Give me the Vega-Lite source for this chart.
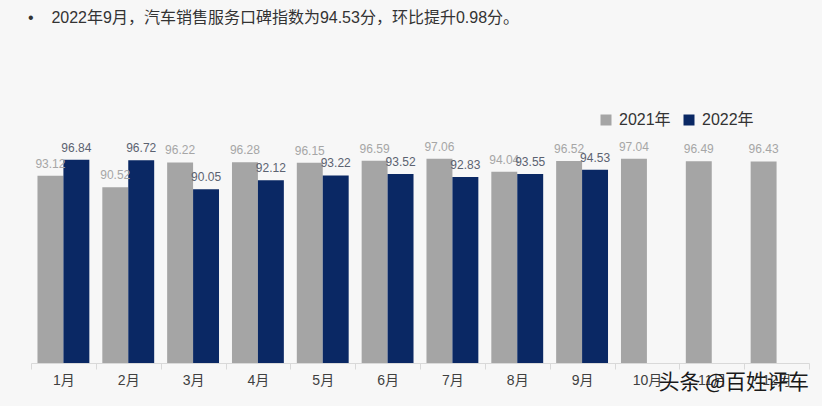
{
  "$schema": "https://vega.github.io/schema/vega-lite/v6.json",
  "width": 778,
  "height": 217,
  "autosize": {"type": "none"},
  "padding": {"left": 31, "top": 146, "right": 13, "bottom": 43},
  "background": "#f7f7f7",
  "config": {"view": {"stroke": null}, "font": "Liberation Sans, Noto Sans CJK SC, sans-serif"},
  "title": {
    "text": "•\u00a0\u00a0\u00a0 2022年9月，汽车销售服务口碑指数为94.53分，环比提升0.98分。",
    "anchor": "start",
    "frame": "group",
    "orient": "top",
    "offset": 86,
    "dx": -3,
    "fontSize": 16,
    "fontWeight": "normal",
    "color": "#333333",
    "font": "Liberation Sans, Noto Sans CJK SC, sans-serif"
  },
  "datasets": {
    "bars": [
      {"month": "1月", "year": "2021年", "value": 93.12},
      {"month": "2月", "year": "2021年", "value": 90.52},
      {"month": "3月", "year": "2021年", "value": 96.22},
      {"month": "4月", "year": "2021年", "value": 96.28},
      {"month": "5月", "year": "2021年", "value": 96.15},
      {"month": "6月", "year": "2021年", "value": 96.59},
      {"month": "7月", "year": "2021年", "value": 97.06},
      {"month": "8月", "year": "2021年", "value": 94.04},
      {"month": "9月", "year": "2021年", "value": 96.52},
      {"month": "10月", "year": "2021年", "value": 97.04},
      {"month": "11月", "year": "2021年", "value": 96.49},
      {"month": "12月", "year": "2021年", "value": 96.43},
      {"month": "1月", "year": "2022年", "value": 96.84},
      {"month": "2月", "year": "2022年", "value": 96.72},
      {"month": "3月", "year": "2022年", "value": 90.05},
      {"month": "4月", "year": "2022年", "value": 92.12},
      {"month": "5月", "year": "2022年", "value": 93.22},
      {"month": "6月", "year": "2022年", "value": 93.52},
      {"month": "7月", "year": "2022年", "value": 92.83},
      {"month": "8月", "year": "2022年", "value": 93.55},
      {"month": "9月", "year": "2022年", "value": 94.53}
    ],
    "mark": [
      {"month": "12月", "label": "头条 @百姓评车", "value": 45.4}
    ]
  },
  "resolve": {"scale": {"x": "shared"}},
  "layer": [
    {
      "data": {"name": "bars"},
      "mark": {"type": "bar"},
      "encoding": {
        "x": {
          "field": "month", "type": "nominal",
          "sort": ["1月","2月","3月","4月","5月","6月","7月","8月","9月","10月","11月","12月"],
          "scale": {"domain": ["1月","2月","3月","4月","5月","6月","7月","8月","9月","10月","11月","12月"], "paddingInner": 0, "paddingOuter": 0},
          "axis": {
            "title": null, "labelAngle": 0, "tickBand": "extent",
            "tickSize": 6, "tickColor": "#d9d9d9", "domainColor": "#d9d9d9",
            "labelFontSize": 14, "labelColor": "#404040", "labelPadding": 4,
            "labelFont": "Liberation Sans, Noto Sans CJK SC, sans-serif"
          }
        },
        "xOffset": {
          "field": "year", "type": "nominal", "sort": ["2021年", "2022年"],
          "scale": {"domain": ["2021年", "2022年"], "paddingInner": 0, "paddingOuter": 0.25}
        },
        "y": {"field": "value", "type": "quantitative", "scale": {"domain": [50, 100], "zero": false, "nice": false}, "axis": null},
        "y2": {"datum": 50},
        "color": {
          "field": "year", "type": "nominal",
          "scale": {"domain": ["2021年", "2022年"], "range": ["#a5a5a5", "#0a2864"]},
          "legend": {
            "title": null, "orient": "none", "legendX": 567, "legendY": -34,
            "direction": "horizontal", "symbolType": "square", "symbolSize": 121,
            "symbolStrokeWidth": 0, "labelFontSize": 16, "labelColor": "#333333",
            "columnPadding": 10, "labelOffset": 5,
            "labelFont": "Liberation Sans, Noto Sans CJK SC, sans-serif"
          }
        }
      }
    },
    {
      "data": {"name": "bars"},
      "mark": {"type": "text", "baseline": "alphabetic", "dy": -8, "fontSize": 12},
      "encoding": {
        "x": {"field": "month", "type": "nominal", "sort": ["1月","2月","3月","4月","5月","6月","7月","8月","9月","10月","11月","12月"]},
        "xOffset": {"field": "year", "type": "nominal", "sort": ["2021年", "2022年"]},
        "y": {"field": "value", "type": "quantitative"},
        "text": {"field": "value", "type": "quantitative", "format": ".2f"},
        "color": {"condition": {"test": "datum.year === '2021年'", "value": "#a6a6a6"}, "value": "#5b6270"}
      }
    },
    {
      "data": {"name": "mark"},
      "mark": {"type": "text", "align": "right", "baseline": "middle", "fontSize": 21, "color": "#1a1a1a", "font": "Noto Sans CJK SC"},
      "encoding": {
        "x": {"field": "month", "type": "nominal", "bandPosition": 1, "sort": ["1月","2月","3月","4月","5月","6月","7月","8月","9月","10月","11月","12月"]},
        "y": {"field": "value", "type": "quantitative"},
        "text": {"field": "label"}
      }
    }
  ]
}
